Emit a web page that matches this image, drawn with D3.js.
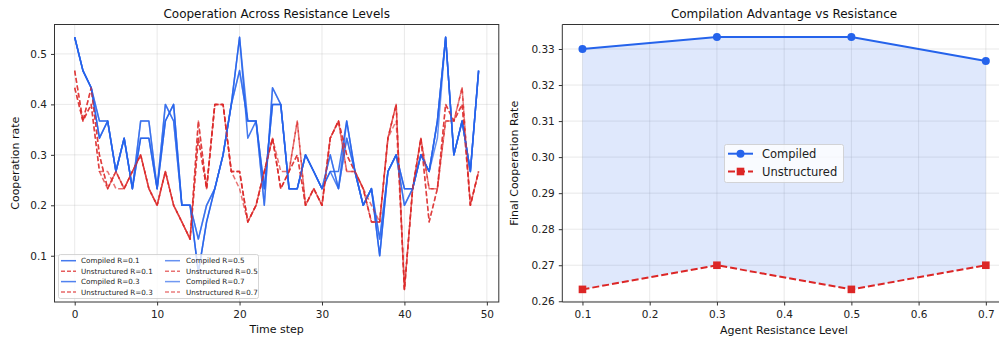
<!DOCTYPE html>
<html><head><meta charset="utf-8">
<script src="https://cdn.jsdelivr.net/npm/d3@7"></script>
<style>body{margin:0;background:#fff}svg{font-family:"DejaVu Sans",sans-serif}</style>
</head><body><svg id="c" width="999" height="341"></svg>
<script>
const timeSteps = d3.range(50);
const compiledR01 = [0.533,0.467,0.433,0.333,0.367,0.267,0.333,0.233,0.333,0.333,0.233,0.367,0.4,0.2,0.2,0.067,0.167,0.233,0.3,0.4,0.533,0.333,0.367,0.233,0.4,0.4,0.233,0.233,0.3,0.267,0.233,0.267,0.267,0.367,0.267,0.2,0.233,0.1,0.267,0.3,0.233,0.233,0.3,0.267,0.367,0.533,0.3,0.367,0.267,0.467];
const compiledR03 = [0.533,0.467,0.433,0.333,0.367,0.267,0.333,0.233,0.333,0.333,0.233,0.367,0.4,0.2,0.2,0.067,0.167,0.233,0.3,0.4,0.533,0.367,0.367,0.233,0.4,0.4,0.233,0.233,0.3,0.267,0.233,0.267,0.233,0.367,0.267,0.2,0.233,0.1,0.267,0.3,0.233,0.233,0.3,0.267,0.367,0.533,0.3,0.367,0.267,0.467];
const compiledR05 = [0.533,0.467,0.433,0.367,0.367,0.267,0.333,0.233,0.367,0.367,0.233,0.4,0.367,0.2,0.2,0.133,0.2,0.233,0.3,0.4,0.467,0.367,0.367,0.2,0.433,0.4,0.233,0.233,0.3,0.267,0.233,0.3,0.233,0.333,0.267,0.2,0.233,0.133,0.267,0.3,0.2,0.233,0.3,0.267,0.333,0.533,0.3,0.367,0.267,0.467];
const compiledR07 = [0.533,0.467,0.433,0.367,0.367,0.267,0.333,0.233,0.367,0.367,0.233,0.4,0.367,0.2,0.2,0.133,0.2,0.233,0.3,0.4,0.467,0.367,0.367,0.2,0.433,0.4,0.233,0.233,0.3,0.267,0.233,0.3,0.233,0.333,0.267,0.2,0.233,0.133,0.267,0.3,0.2,0.233,0.3,0.267,0.367,0.533,0.3,0.367,0.267,0.467];
const unstructR01 = [0.467,0.367,0.433,0.3,0.233,0.267,0.233,0.267,0.3,0.233,0.2,0.267,0.2,0.167,0.133,0.333,0.233,0.4,0.4,0.267,0.267,0.167,0.2,0.267,0.333,0.233,0.267,0.3,0.2,0.233,0.2,0.333,0.367,0.3,0.267,0.233,0.167,0.167,0.333,0.4,0.033,0.233,0.333,0.233,0.233,0.367,0.367,0.433,0.2,0.267];
const unstructR03 = [0.433,0.367,0.4,0.267,0.233,0.267,0.233,0.267,0.3,0.233,0.2,0.267,0.2,0.167,0.133,0.367,0.233,0.4,0.4,0.267,0.267,0.167,0.2,0.267,0.333,0.233,0.267,0.367,0.2,0.233,0.2,0.333,0.367,0.267,0.267,0.233,0.167,0.167,0.333,0.4,0.033,0.233,0.333,0.167,0.233,0.4,0.367,0.4,0.2,0.267];
const unstructR05 = [0.433,0.367,0.4,0.267,0.267,0.233,0.233,0.267,0.3,0.233,0.2,0.267,0.2,0.167,0.133,0.367,0.233,0.4,0.4,0.267,0.233,0.167,0.2,0.267,0.333,0.267,0.267,0.367,0.2,0.233,0.2,0.333,0.367,0.267,0.267,0.233,0.2,0.167,0.333,0.4,0.033,0.233,0.333,0.167,0.233,0.4,0.367,0.4,0.2,0.267];
const unstructR07 = [0.467,0.367,0.433,0.3,0.233,0.267,0.233,0.267,0.3,0.233,0.2,0.267,0.2,0.167,0.133,0.333,0.233,0.4,0.4,0.267,0.267,0.167,0.2,0.267,0.333,0.233,0.267,0.3,0.2,0.233,0.2,0.333,0.367,0.3,0.267,0.233,0.167,0.167,0.333,0.367,0.033,0.233,0.333,0.233,0.233,0.367,0.367,0.433,0.2,0.267];
const seriesLabels = ["Compiled R=0.1","Unstructured R=0.1","Compiled R=0.3","Unstructured R=0.3","Compiled R=0.5","Unstructured R=0.5","Compiled R=0.7","Unstructured R=0.7"];
const resistance = [0.1,0.3,0.5,0.7];
const finalCompiled = [0.33,0.3333,0.3333,0.3267];
const finalUnstructured = [0.2633,0.27,0.2633,0.27];
const xTicksL = [0,10,20,30,40,50];
const yTicksL = [0.1,0.2,0.3,0.4,0.5];
const xTicksR = [0.1,0.2,0.3,0.4,0.5,0.6,0.7];
const yTicksR = [0.26,0.27,0.28,0.29,0.30,0.31,0.32,0.33];

const BLUE="#2563eb", RED="#dc2626";
const svg = d3.select("#c");

function axesFrame(g, x, y, xt, yt, xfmt, yfmt, L, R, T, B){
  const grid = g.append("g").attr("stroke","#b0b0b0").attr("stroke-opacity",0.35).attr("stroke-width",0.8);
  xt.forEach(v=>{ if(x(v)>=L&&x(v)<=R) grid.append("line").attr("x1",x(v)).attr("x2",x(v)).attr("y1",T).attr("y2",B);});
  yt.forEach(v=>grid.append("line").attr("x1",L).attr("x2",R).attr("y1",y(v)).attr("y2",y(v)));
  const ax = g.append("g").attr("transform",`translate(0,${B})`).call(d3.axisBottom(x).tickValues(xt.filter(v=>x(v)<=R+1)).tickFormat(xfmt).tickSize(3.5).tickSizeOuter(0));
  const ay = g.append("g").attr("transform",`translate(${L},0)`).call(d3.axisLeft(y).tickValues(yt).tickFormat(yfmt).tickSize(3.5).tickSizeOuter(0));
  [ax,ay].forEach(a=>{a.select(".domain").remove();a.selectAll("line").attr("stroke","#333");a.selectAll("text").attr("font-size",10.5).attr("fill","#222").attr("font-family","DejaVu Sans");});
  ay.selectAll("text").attr("dx",-1);
  ax.selectAll("text").attr("dy","0.9em");
}

// LEFT
{
  const L=54.5,R=498.8,T=24.5,B=302;
  const x=d3.scaleLinear().domain([-2.45,51.45]).range([L,R]);
  const y=d3.scaleLinear().domain([0.00833,0.55833]).range([B,T]);
  const g=svg.append("g");
  axesFrame(g,x,y,xTicksL,yTicksL,d3.format("d"),d3.format(".1f"),L,R,T,B);
  const line=d3.line().x((d,i)=>x(timeSteps[i])).y(d=>y(d));
  const series=[
    {d:compiledR01,c:BLUE,o:0.85,dash:null},
    {d:unstructR01,c:RED,o:0.75,dash:"5,2.5"},
    {d:compiledR03,c:BLUE,o:0.8,dash:null},
    {d:unstructR03,c:RED,o:0.7,dash:"5,2.5"},
    {d:compiledR05,c:BLUE,o:0.7,dash:null},
    {d:unstructR05,c:RED,o:0.65,dash:"5,2.5"},
    {d:compiledR07,c:BLUE,o:0.65,dash:null},
    {d:unstructR07,c:RED,o:0.6,dash:"5,2.5"}];
  series.forEach(s=>{
    g.append("path").attr("d",line(s.d)).attr("fill","none").attr("stroke",s.c).attr("stroke-opacity",s.o).attr("stroke-width",1.5).attr("stroke-dasharray",s.dash).attr("stroke-linejoin","round");
  });
  g.append("rect").attr("x",L).attr("y",T).attr("width",R-L).attr("height",B-T).attr("fill","none").attr("stroke","#333").attr("stroke-width",1);
  const lg=g.append("g");
  lg.append("rect").attr("x",58.5).attr("y",254.5).attr("width",200).attr("height",44).attr("rx",2).attr("fill","#fff").attr("fill-opacity",0.8).attr("stroke","#ccc").attr("stroke-width",0.8);
  seriesLabels.forEach((t,i)=>{
    const col=Math.floor(i/4), row=i%4;
    const lx=col?165:61, tx=col?186:81, ly=260.7+row*10.45;
    const s=series[i];
    lg.append("line").attr("x1",lx).attr("x2",lx+15).attr("y1",ly).attr("y2",ly).attr("stroke",s.c).attr("stroke-opacity",s.o).attr("stroke-width",1.5).attr("stroke-dasharray",s.dash?"4,2":null);
    lg.append("text").attr("x",tx).attr("y",ly+2.6).attr("font-size",7.2).attr("fill","#222").text(t);
  });
  svg.append("text").attr("x",(L+R)/2).attr("y",18).attr("text-anchor","middle").attr("font-size",12).attr("fill","#111").text("Cooperation Across Resistance Levels");
  svg.append("text").attr("x",(L+R)/2).attr("y",332.5).attr("text-anchor","middle").attr("font-size",11).attr("fill","#111").text("Time step");
  svg.append("text").attr("transform",`translate(19,${(T+B)/2}) rotate(-90)`).attr("text-anchor","middle").attr("font-size",11).attr("fill","#111").text("Cooperation rate");
}

// RIGHT
{
  const L=562.3,R=1006,T=24.5,B=302;
  const x=d3.scaleLinear().domain([0.07,0.73]).range([L,R]);
  const y=d3.scaleLinear().domain([0.2598,0.3368]).range([B,T]);
  const g=svg.append("g");
  axesFrame(g,x,y,xTicksR,yTicksR,d3.format(".1f"),d3.format(".2f"),L,R,T,B);
  const area=d3.area().x((d,i)=>x(resistance[i])).y0((d,i)=>y(finalUnstructured[i])).y1(d=>y(d));
  g.append("path").attr("d",area(finalCompiled)).attr("fill",BLUE).attr("fill-opacity",0.15);
  const line=d3.line().x((d,i)=>x(resistance[i])).y(d=>y(d));
  g.append("path").attr("d",line(finalCompiled)).attr("fill","none").attr("stroke",BLUE).attr("stroke-width",2);
  g.append("path").attr("d",line(finalUnstructured)).attr("fill","none").attr("stroke",RED).attr("stroke-width",2).attr("stroke-dasharray","7,3");
  finalCompiled.forEach((v,i)=>g.append("circle").attr("cx",x(resistance[i])).attr("cy",y(v)).attr("r",4).attr("fill",BLUE));
  finalUnstructured.forEach((v,i)=>g.append("rect").attr("x",x(resistance[i])-3.8).attr("y",y(v)-3.8).attr("width",7.6).attr("height",7.6).attr("fill",RED));
  g.append("path").attr("d",`M${L},${T}H${R}M${L},${T}V${B}H${R}`).attr("fill","none").attr("stroke","#333").attr("stroke-width",1);
  const lg=g.append("g");
  lg.append("rect").attr("x",724.5).attr("y",144.5).attr("width",119).attr("height",38).attr("rx",2).attr("fill","#fff").attr("fill-opacity",0.8).attr("stroke","#ccc").attr("stroke-width",0.8);
  lg.append("line").attr("x1",728).attr("x2",753).attr("y1",153.7).attr("y2",153.7).attr("stroke",BLUE).attr("stroke-width",2);
  lg.append("circle").attr("cx",740.5).attr("cy",153.7).attr("r",4).attr("fill",BLUE);
  lg.append("line").attr("x1",728).attr("x2",753).attr("y1",171.5).attr("y2",171.5).attr("stroke",RED).attr("stroke-width",2).attr("stroke-dasharray","7,3");
  lg.append("rect").attr("x",736.7).attr("y",167.7).attr("width",7.6).attr("height",7.6).attr("fill",RED);
  lg.append("text").attr("x",762).attr("y",157.6).attr("font-size",11.5).attr("fill","#222").text("Compiled");
  lg.append("text").attr("x",762).attr("y",175.5).attr("font-size",11.5).attr("fill","#222").text("Unstructured");
  svg.append("text").attr("x",784).attr("y",18).attr("text-anchor","middle").attr("font-size",12).attr("fill","#111").text("Compilation Advantage vs Resistance");
  svg.append("text").attr("x",784).attr("y",334).attr("text-anchor","middle").attr("font-size",11).attr("fill","#111").text("Agent Resistance Level");
  svg.append("text").attr("transform",`translate(518,${(T+B)/2}) rotate(-90)`).attr("text-anchor","middle").attr("font-size",11).attr("fill","#111").text("Final Cooperation Rate");
}
</script></body></html>
